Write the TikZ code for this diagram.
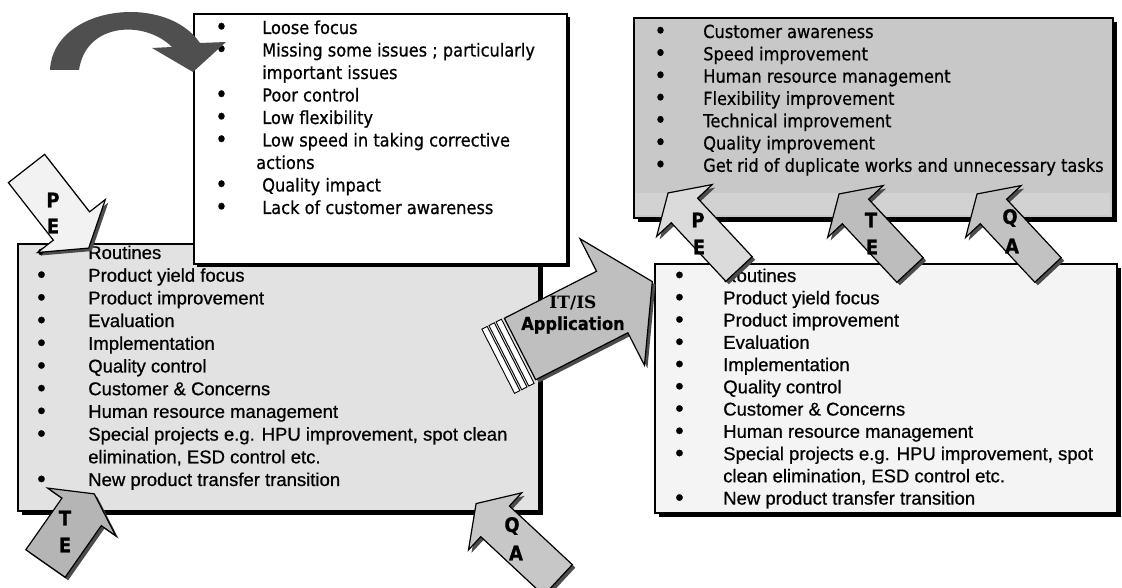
\documentclass[tikz,border=0pt]{standalone}
\usepackage{graphicx}
\usepackage{fontspec}
\setmainfont{Liberation Sans}[RawFeature={embolden=0.7}]
\newfontfamily\tahoma[FakeStretch=0.9, RawFeature={embolden=0.7}]{DejaVu Sans}
\newfontfamily\slabserif{DejaVu Serif}
\usetikzlibrary{calc}

% one drawing unit = one screen pixel
\newlength\px
\setlength\px{0.75pt}

\definecolor{boxBfill}{HTML}{E2E2E2}
\definecolor{boxCfill}{HTML}{C8C8C8}
\definecolor{boxCband}{HTML}{D2D2D2}
\definecolor{boxDfill}{HTML}{F4F4F4}
\definecolor{curvefill}{HTML}{4F4F4F}

% list lines: bullet in a fixed-width slot, then the text
\newcommand\bigdot{\raisebox{-0.05em}{\scalebox{1.3}{\textbullet}}}
\newcommand\bul[2]{\makebox[#1][l]{\bigdot}#2}
\newcommand\cont[2]{\hspace*{#1}#2}

% block arrow: style, tail centre, angle, shaft length, shaft width, head length, head width
\newcommand\blockarrow[7]{%
  \begin{scope}[shift={#2}, shift={(3,3)}, rotate=#3]
    \fill[arrowshadow] (0,{-#5/2}) -- (#4,{-#5/2}) -- (#4,{-#7/2}) -- ({#4+#6},0)
      -- (#4,{#7/2}) -- (#4,{#5/2}) -- (0,{#5/2}) -- cycle;
  \end{scope}
  \begin{scope}[shift={#2}, rotate=#3]
    \path[arrowbody,#1] (0,{-#5/2}) -- (#4,{-#5/2}) -- (#4,{-#7/2}) -- ({#4+#6},0)
      -- (#4,{#7/2}) -- (#4,{#5/2}) -- (0,{#5/2}) -- cycle;
  \end{scope}}

\tikzset{
  panel/.style={draw=black, line width=2.4\px, inner sep=0pt, anchor=north west},
  panelshadow/.style={fill=black},
  arrowbody/.style={draw=black, line width=1.2\px, line join=miter},
  arrowshadow/.style={fill=black!70},
  tag/.style={font=\tahoma\bfseries\fontsize{20\px}{20\px}\selectfont, inner sep=0pt},
  listtext/.style={anchor=base west, inner sep=0pt, align=left},
}

\begin{document}
\begin{tikzpicture}[x=0.75pt, y=-0.75pt]
\useasboundingbox (0,0) rectangle (1122,588);

% ---------- current activities (left, grey) ----------
\fill[panelshadow] (22,248) rectangle (543,515);
\node[panel, fill=boxBfill, minimum width=521\px, minimum height=267\px] (boxB) at (17,243) {};

% ---------- problems (white) ----------
\fill[panelshadow] (197,17) rectangle (570,267);
\node[panel, fill=white, minimum width=373\px, minimum height=250\px] (boxA) at (193,13) {};
\node[listtext, font=\tahoma\fontsize{18\px}{22.5\px}\selectfont] (listA) at (215,34) {\parbox[t]{345\px}{%
\bul{47\px}{Loose focus}\\
\bul{47\px}{Missing some issues ; particularly}\\
\cont{47\px}{important issues}\\
\bul{47\px}{Poor control}\\
\bul{47\px}{Low flexibility}\\
\bul{47\px}{Low speed in taking corrective}\\
\cont{41\px}{actions}\\
\bul{47\px}{Quality impact}\\
\bul{47\px}{Lack of customer awareness}}};

\node[listtext, font=\fontsize{18.5\px}{22.7\px}\selectfont] (listB) at (37,259) {\parbox[t]{490\px}{%
\bul{51\px}{Routines}\\
\bul{51\px}{Product yield focus}\\
\bul{51\px}{Product improvement}\\
\bul{51\px}{Evaluation}\\
\bul{51\px}{Implementation}\\
\bul{51\px}{Quality control}\\
\bul{51\px}{Customer \& Concerns}\\
\bul{51\px}{Human resource management}\\
\bul{51\px}{Special projects e.g. HPU improvement, spot clean}\\
\cont{51\px}{elimination, ESD control etc.}\\
\bul{51\px}{New product transfer transition}}};

% curved arrow falling onto the problem list
\fill[curvefill] (50,70) .. controls (53,6) and (165,-8) .. (200,43)
  -- (226,42) -- (193,72) -- (152,48) -- (172,47)
  .. controls (145,20) and (86,22) .. (79,70) -- cycle;

% P/E arrow into the left list
\blockarrow{fill=white!95!black}{(26.5,168.5)}{-52}{73}{46}{28}{86}
\node[tag] (pe1p) at (53,200) {P};
\node[tag] (pe1e) at (53,226) {E};

% T/E and Q/A arrows under the left list
\blockarrow{fill=black!29}{(45.5,563.5)}{55}{63}{48}{22}{83}
\node[tag] (te1t) at (65,518) {T};
\node[tag] (te1e) at (65,545) {E};

\blockarrow{fill=black!22}{(558,580)}{137}{86}{42}{26}{78}
\node[tag] (qa1q) at (512,526) {Q};
\node[tag] (qa1a) at (516,553) {A};

% ---------- activities after IT/IS (right, light) ----------
\fill[panelshadow] (659,268) rectangle (1121,517);
\node[panel, fill=boxDfill, minimum width=462\px, minimum height=249\px] (boxD) at (654,263) {};
\node[listtext, font=\fontsize{18.5\px}{22.26\px}\selectfont] (listD) at (675,282) {\parbox[t]{440\px}{%
\bul{48\px}{Routines}\\
\bul{48\px}{Product yield focus}\\
\bul{48\px}{Product improvement}\\
\bul{48\px}{Evaluation}\\
\bul{48\px}{Implementation}\\
\bul{48\px}{Quality control}\\
\bul{48\px}{Customer \& Concerns}\\
\bul{48\px}{Human resource management}\\
\bul{48\px}{Special projects e.g. HPU improvement, spot}\\
\cont{48\px}{clean elimination, ESD control etc.}\\
\bul{48\px}{New product transfer transition}}};

% ---------- benefits (top right, grey) ----------
\fill[panelshadow] (638,22) rectangle (1117,222);
\node[panel, fill=boxCfill, minimum width=479\px, minimum height=200\px] (boxC) at (633,17) {};
\fill[boxCband] (635,193) rectangle (1110,215);
\node[listtext, font=\tahoma\fontsize{18\px}{22.3\px}\selectfont] (listC) at (654,38) {\parbox[t]{460\px}{%
\bul{49\px}{Customer awareness}\\
\bul{49\px}{Speed improvement}\\
\bul{49\px}{Human resource management}\\
\bul{49\px}{Flexibility improvement}\\
\bul{49\px}{Technical improvement}\\
\bul{49\px}{Quality improvement}\\
\bul{49\px}{Get rid of duplicate works and unnecessary tasks}}};

% P/E, T/E, Q/A arrows from the new activities up to the benefits
\blockarrow{fill=black!14}{(739,269)}{133}{80}{36}{24}{76}
\node[tag] (pe2p) at (698,220) {P};
\node[tag] (pe2e) at (699,247) {E};

\blockarrow{fill=black!26}{(910,270)}{133}{80}{36}{24}{76}
\node[tag] (te2t) at (871,220) {T};
\node[tag] (te2e) at (872,247) {E};

\blockarrow{fill=black!24}{(1048,270)}{133}{80}{36}{24}{76}
\node[tag] (qa2q) at (1010,218) {Q};
\node[tag] (qa2a) at (1012,246) {A};

% ---------- IT/IS application arrow ----------
\blockarrow{fill=black!25}{(520,349)}{27}{103.5}{69}{45}{142}
\begin{scope}[shift={(520,349)}, rotate=27]
  \foreach \k in {0,1,2}
    \draw[fill=white, line width=0.9\px] ({-8*\k-9},-35) rectangle ({-8*\k-3},37);
\end{scope}
\node[font=\slabserif\bfseries\fontsize{17\px}{17\px}\selectfont, inner sep=0pt] (itis) at (573,303) {IT/IS};
\node[font=\tahoma\bfseries\fontsize{18\px}{18\px}\selectfont, inner sep=0pt] (appl) at (573,325) {Application};

\end{tikzpicture}
\end{document}
